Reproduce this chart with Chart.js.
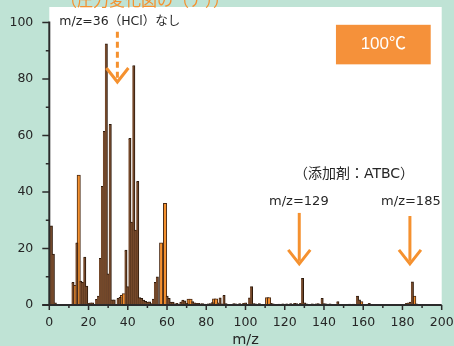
<!DOCTYPE html>
<html>
<head>
<meta charset="utf-8">
<script src="https://cdn.jsdelivr.net/npm/chart.js@4"></script>
<style>
  html, body { margin: 0; padding: 0; background: #bfe3d5; }
  #wrap { width: 454px; height: 346px; }
</style>
</head>
<body>
<div id="wrap"><canvas id="spectrum" width="454" height="346"></canvas></div>
<script>
// Mass spectrum of the gas released at 100 °C (relative intensity vs m/z)

// Sharp peaks
const peakMz = [1, 2, 3, 12, 14, 16, 17, 18, 19, 20, 21, 22, 24, 25, 26, 27, 28, 29, 30, 31,
  32, 33, 35, 36, 39, 40, 41, 42, 43, 44, 45, 46, 47, 48, 49, 50, 51, 52, 53, 54, 55,
  60, 61, 62, 63, 64, 65, 67, 68, 69, 70, 73, 74, 75, 76, 77, 78, 79, 81, 82, 83,
  86, 87, 88, 89, 90, 94, 95, 97, 99, 100, 102, 103, 104, 105, 107, 113, 114, 117, 119,
  121, 123, 125, 126, 128, 129, 130, 131, 134, 136, 137, 139, 140, 141, 143, 147, 153,
  155, 157, 158, 163, 182, 183, 184, 185, 187];
const peakIntensity = [28, 18, 0.8, 8, 22, 8.5, 8, 17, 6.7, 0.6, 0.8, 0.8, 2, 3.2, 16.5, 42, 61.5, 92.5, 11, 64,
  1.8, 1.8, 2.4, 2.7, 19.4, 6.5, 59, 29.4, 84.8, 26.5, 43.8, 2.6, 2.4, 1.7, 1.3, 1.0, 1.1, 0.5, 2.1, 8, 10,
  3.2, 2.4, 1.0, 1.0, 0.4, 0.6, 1.0, 1.7, 1.5, 0.6, 1.2, 0.8, 0.6, 0.6, 0.4, 0.5, 0.3, 0.4, 0.5, 0.9,
  0.8, 2.5, 0.4, 3.4, 0.5, 0.5, 0.4, 0.5, 0.6, 0.8, 2.5, 6.5, 0.5, 0.4, 0.5, 0.6, 0.4, 0.3, 0.4,
  0.4, 0.5, 0.6, 0.5, 0.6, 9.4, 0.8, 0.4, 0.4, 0.4, 0.5, 2.4, 0.5, 0.4, 0.4, 1.2, 0.3,
  0.3, 3.2, 1.8, 0.6, 0.6, 0.8, 1.0, 8.2, 0.4];

// Broad peaks (drawn wider, orange)
const broadMz = [13, 15, 37, 38, 57, 59, 71, 72, 84, 85, 111, 112, 159, 186];
const broadIntensity = [7, 46, 3.4, 4.0, 22, 36, 2.1, 2.1, 2.2, 2.2, 2.6, 2.6, 1.2, 3.2];

// Axis ticks
const xTickValues = [0, 20, 40, 60, 80, 100, 120, 140, 160, 180, 200];
const yTickValues = [0, 20, 40, 60, 80, 100];

const MINT = '#bfe3d5';
const ORANGE = '#f5912f';
const AXIS = '#2b2b2b';
const TEXT = '#262626';

const toPoints = (xs, ys) => xs.map((m, i) => ({ x: m, y: ys[i] }));

// Mint page with a white plotting panel
const backdrop = {
  id: 'backdrop',
  beforeDraw(chart) {
    const { ctx, chartArea: a } = chart;
    ctx.save();
    ctx.fillStyle = MINT;
    ctx.fillRect(0, 0, chart.width, chart.height);
    ctx.fillStyle = '#ffffff';
    ctx.fillRect(a.left, a.top, a.right - a.left, a.bottom - a.top);
    ctx.restore();
  }
};

// Axis lines with major and minor tick marks
const axisFrame = {
  id: 'axisFrame',
  afterDatasetsDraw(chart) {
    const { ctx, scales: { x, y } } = chart;
    const x0 = x.getPixelForValue(xTickValues[0]);
    const x1 = x.getPixelForValue(xTickValues[xTickValues.length - 1]);
    const y0 = y.getPixelForValue(yTickValues[0]);
    const yTop = y.getPixelForValue(yTickValues[yTickValues.length - 1]);
    ctx.save();
    ctx.strokeStyle = AXIS;
    ctx.lineWidth = 2;
    ctx.beginPath();
    ctx.moveTo(x0, yTop - 1);
    ctx.lineTo(x0, y0);
    ctx.moveTo(x0 - 7, y0);
    ctx.lineTo(x1, y0);
    ctx.stroke();
    ctx.lineWidth = 1.5;
    ctx.beginPath();
    yTickValues.forEach((v, i) => {
      const p = y.getPixelForValue(v);
      ctx.moveTo(x0 - 7, p); ctx.lineTo(x0, p);
      if (i > 0) {
        const m = y.getPixelForValue((v + yTickValues[i - 1]) / 2);
        ctx.moveTo(x0 - 3.5, m); ctx.lineTo(x0, m);
      }
    });
    xTickValues.forEach((v, i) => {
      const p = x.getPixelForValue(v);
      ctx.moveTo(p, y0); ctx.lineTo(p, y0 + 5);
      if (i > 0) {
        const m = x.getPixelForValue((v + xTickValues[i - 1]) / 2);
        ctx.moveTo(m, y0); ctx.lineTo(m, y0 + 3);
      }
    });
    ctx.stroke();
    ctx.restore();
  }
};

function drawArrow(ctx, px, pyTop, pyTip, dashed) {
  ctx.save();
  ctx.strokeStyle = ORANGE;
  ctx.lineWidth = 3;
  ctx.lineCap = 'butt';
  ctx.beginPath();
  if (dashed) ctx.setLineDash([6, 4]);
  ctx.moveTo(px, pyTop);
  ctx.lineTo(px, pyTip - 4);
  ctx.stroke();
  ctx.setLineDash([]);
  ctx.lineJoin = 'miter';
  ctx.beginPath();
  ctx.moveTo(px - 11, pyTip - 15);
  ctx.lineTo(px, pyTip - 1);
  ctx.lineTo(px + 11, pyTip - 15);
  ctx.stroke();
  ctx.restore();
}

// Labels, arrows and the temperature badge
const notes = {
  id: 'notes',
  afterDraw(chart) {
    const { ctx, scales: { x, y } } = chart;
    const X = v => x.getPixelForValue(v);
    const Y = v => y.getPixelForValue(v);
    ctx.save();

    ctx.fillStyle = ORANGE;
    ctx.font = '16px "Noto Sans CJK JP"';
    ctx.textAlign = 'left';
    ctx.textBaseline = 'middle';
    ctx.fillText('（圧力変化図の（ア））', 61, 0);

    ctx.fillStyle = TEXT;
    ctx.font = '12.5px "DejaVu Sans", "Noto Sans CJK JP"';
    ctx.fillText('m/z=36（HCl）なし', X(5.1), Y(100.2));

    drawArrow(ctx, X(34.7), Y(96.7), Y(78.6), true);

    // temperature badge
    const bx0 = X(146.1), bx1 = X(194.4), by0 = Y(99.2), by1 = Y(85.2);
    ctx.fillStyle = '#f5913a';
    ctx.fillRect(bx0, by0, bx1 - bx0, by1 - by0);
    ctx.fillStyle = '#ffffff';
    ctx.font = '17px "Liberation Sans", "Noto Sans CJK JP"';
    ctx.textAlign = 'center';
    ctx.fillText('100℃', (bx0 + bx1) / 2, (by0 + by1) / 2);

    ctx.fillStyle = TEXT;
    ctx.font = '14px "DejaVu Sans", "Noto Sans CJK JP"';
    ctx.fillText('（添加剤：ATBC）', X(155.3), Y(46.1));
    ctx.font = '13px "DejaVu Sans", "Noto Sans CJK JP"';
    ctx.fillText('m/z=129', X(127.2), Y(36.7));
    ctx.fillText('m/z=185', X(184.3), Y(36.7));

    drawArrow(ctx, X(127.4), Y(32.6), Y(14.2), false);
    drawArrow(ctx, X(183.8), Y(31.5), Y(14.2), false);

    ctx.font = '14.5px "DejaVu Sans"';
    ctx.fillText('m/z', (X(0) + X(200)) / 2, 340);
    ctx.restore();
  }
};

const tickFont = { family: 'DejaVu Sans', size: 12.5 };

new Chart(document.getElementById('spectrum'), {
  type: 'bar',
  data: {
    datasets: [
      {
        data: toPoints(peakMz, peakIntensity),
        backgroundColor: '#74482a',
        borderColor: '#2e1a0c',
        borderWidth: { left: 0, right: 1, top: 1, bottom: 0 },
        barThickness: 2.6,
        grouped: false
      },
      {
        data: toPoints(broadMz, broadIntensity),
        backgroundColor: ORANGE,
        borderColor: '#4a2a14',
        borderWidth: 1,
        barThickness: 3.4,
        grouped: false
      }
    ]
  },
  options: {
    responsive: false,
    animation: false,
    devicePixelRatio: 1,
    layout: { padding: { left: 9.3, top: 7, right: 12.3, bottom: 15.5 } },
    plugins: { legend: { display: false }, tooltip: { enabled: false } },
    scales: {
      x: {
        type: 'linear',
        min: 0,
        max: 200,
        offset: false,
        afterBuildTicks: s => { s.ticks = xTickValues.map(v => ({ value: v })); },
        afterFit: s => { s.height = 25.5; s.paddingLeft = 0; s.paddingRight = 0; },
        grid: { display: true, offset: false, drawOnChartArea: false, drawTicks: true, tickLength: 5, color: 'rgba(0,0,0,0)' },
        border: { display: false },
        ticks: { font: tickFont, color: TEXT, padding: 5.5, maxRotation: 0, autoSkip: false }
      },
      y: {
        min: 0,
        max: 105.5,
        afterBuildTicks: s => { s.ticks = yTickValues.map(v => ({ value: v })); },
        afterFit: s => { s.width = 40; s.paddingTop = 0; s.paddingBottom = 0; },
        grid: { display: true, drawOnChartArea: false, drawTicks: true, tickLength: 7, color: 'rgba(0,0,0,0)' },
        border: { display: false },
        ticks: { font: tickFont, color: TEXT, padding: 9 }
      }
    }
  },
  plugins: [backdrop, axisFrame, notes]
});
</script>
</body>
</html>
